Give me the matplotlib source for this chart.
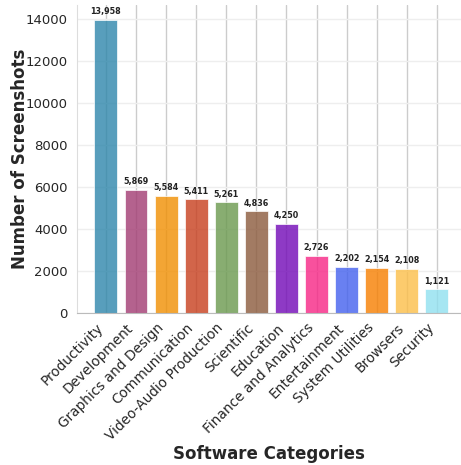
import matplotlib
matplotlib.use("Agg")
import matplotlib.pyplot as plt
import seaborn as sns

categories = ["Productivity", "Development", "Graphics and Design", "Communication",
              "Video-Audio Production", "Scientific", "Education", "Finance and Analytics",
              "Entertainment", "System Utilities", "Browsers", "Security"]
counts = [13958, 5869, 5584, 5411, 5261, 4836, 4250, 2726, 2202, 2154, 2108, 1121]
colors = ["#2E86AB", "#A23B72", "#F18F01", "#C73E1D", "#6A994E", "#8B5A3C",
          "#7209B7", "#F72585", "#4361EE", "#F77F00", "#FCBF49", "#90E0EF"]

sns.set_style("whitegrid")
plt.rcParams["font.family"] = ["DejaVu Sans"]

fig = plt.figure(figsize=(4.61, 4.65), dpi=100)
ax = fig.add_axes([77 / 461, 1 - 313 / 465, (461 - 77) / 461, (313 - 5) / 465])

x = range(len(categories))
ax.bar(x, counts, width=0.76, color=colors, alpha=0.8,
       edgecolor="white", linewidth=0.6)

ax.set_xlim(-0.96, 11.8)
ax.set_ylim(0, max(counts) * 1.05)

for xi, v in zip(x, counts):
    ax.text(xi, v + 180, f"{v:,}", ha="center", va="bottom",
            fontsize=5.8, fontweight="bold", color="#222222")

ax.set_xticks(list(x))
ax.set_xticklabels(categories, rotation=45, ha="right",
                   fontsize=9.8, color="#262626")
ax.tick_params(axis="y", labelsize=9.5, labelcolor="#262626", pad=3)
ax.tick_params(axis="x", pad=2)

ax.set_ylabel("Number of Screenshots", fontsize=12, fontweight="bold",
              color="#262626")
ax.yaxis.set_label_coords(-0.125, 0.5)
ax.set_xlabel("Software Categories", fontsize=12, fontweight="bold",
              color="#262626", labelpad=1)

ax.grid(axis="x", color="#cccccc", linewidth=1.0)
ax.grid(axis="y", color="#eeeeee", linewidth=1.0)
ax.set_axisbelow(True)

for side in ["top", "right"]:
    ax.spines[side].set_visible(False)
ax.spines["left"].set_color("#dddddd")
ax.spines["bottom"].set_color("#bbbbbb")

fig.savefig("out.png", dpi=100)
